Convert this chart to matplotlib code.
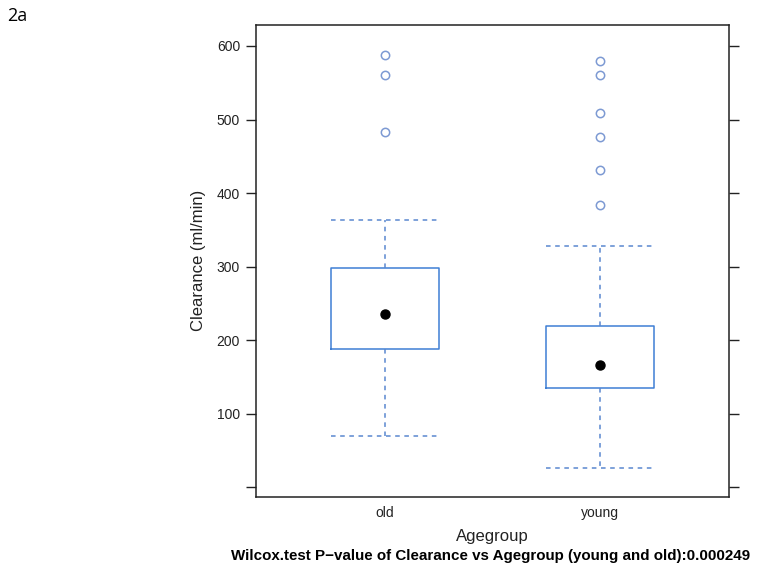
import matplotlib
matplotlib.use("Agg")
import matplotlib.pyplot as plt

categories = ["old", "young"]
q1 = [188, 135]
medians = [236, 167]
q3 = [298, 219]
whislo = [70, 26]
whishi = [364, 328]
outliers = [[483, 561, 588], [384, 432, 476, 509, 561, 580]]
yticks = [0, 100, 200, 300, 400, 500, 600]
yticklabels = ["", "100", "200", "300", "400", "500", "600"]

plt.rcParams['font.family'] = ['Liberation Sans', 'DejaVu Sans']

fig = plt.figure(figsize=(7.62, 5.73), dpi=100)
ax = fig.add_axes([0.336, 0.1332, 0.6207, 0.8226])

box_col = "#3f7fd4"
wh_col = "#5a87cf"
out_col = "#7d9ad3"

stats = []
for i, c in enumerate(categories):
    stats.append(dict(label=c, q1=q1[i], med=medians[i], q3=q3[i],
                      whislo=whislo[i], whishi=whishi[i], fliers=outliers[i]))
pos = list(range(1, len(categories) + 1))
ax.bxp(stats, positions=pos, widths=0.5, capwidths=0.5, showfliers=True,
       boxprops=dict(color=box_col, linewidth=1.1),
       whiskerprops=dict(color=wh_col, linewidth=1.1, linestyle=(0, (3, 3))),
       capprops=dict(color=wh_col, linewidth=1.1, linestyle=(0, (3, 3))),
       medianprops=dict(visible=False),
       flierprops=dict(marker='o', markersize=6, markerfacecolor='none',
                       markeredgecolor=out_col, markeredgewidth=1.1))
ax.plot(pos, medians, 'o', color='black', markersize=6.5, zorder=5)

ax.set_xlim(0.4, 2.6)
ax.set_ylim(-12.5, 628)
ax.set_xticks(pos)
ax.set_xticklabels(categories, fontsize=10, color='#222222')
ax.tick_params(axis='x', length=0, pad=7)
ax.set_yticks(yticks)
ax.set_yticklabels(yticklabels, fontsize=10, color='#222222')
ax.tick_params(axis='y', direction='out', length=7, width=1, right=True,
               labelright=False, pad=4.5, color='#222222')
for s in ax.spines.values():
    s.set_linewidth(1.1)
    s.set_color('#222222')

fig.text(198 / 762, 1 - 260 / 573, "Clearance (ml/min)", rotation=90,
         ha='center', va='center', fontsize=12, color='#222222')
fig.text(492 / 762, 1 - 537 / 573, "Agegroup", ha='center', va='center',
         fontsize=12, color='#222222')
fig.text(491 / 762, 1 - 556 / 573,
         "Wilcox.test P\u2212value of Clearance vs Agegroup (young and old):0.000249",
         ha='center', va='center', fontsize=10.9, fontweight='bold', color='black')
fig.text(7 / 762, 1 - 16 / 573, "2a", ha='left', va='center', fontsize=13,
         family=['Open Sans', 'DejaVu Sans'], color='black')

fig.savefig("out.png", dpi=100)
